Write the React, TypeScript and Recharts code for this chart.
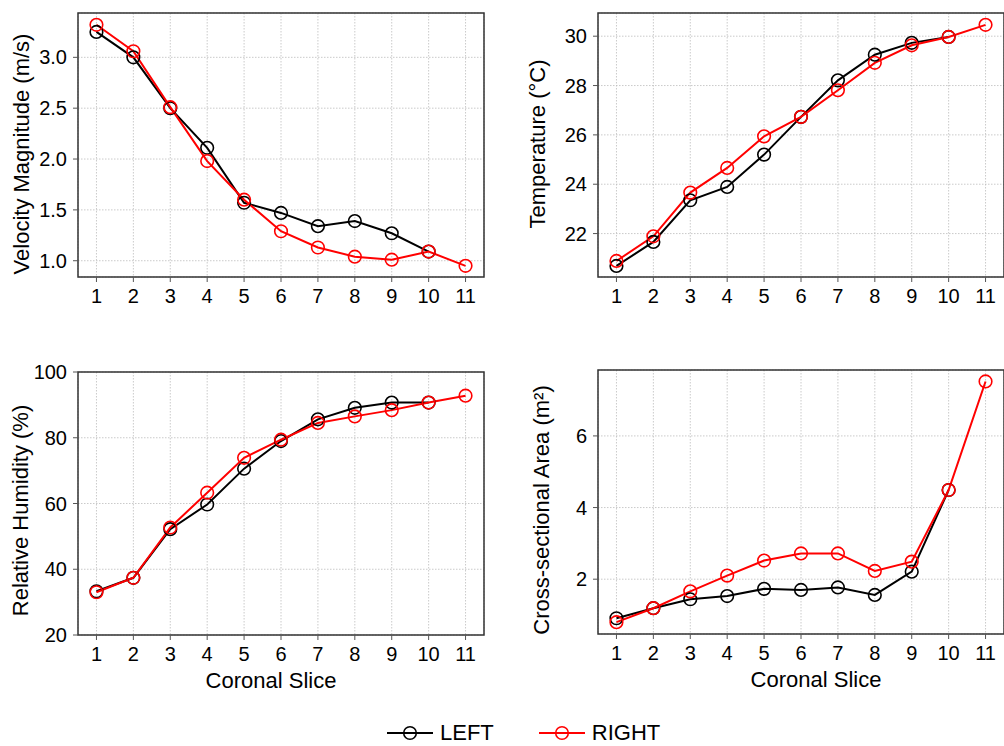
import type { ReactNode } from "react";
import {
  CartesianGrid,
  Legend,
  Line,
  LineChart,
  ReferenceArea,
  XAxis,
  YAxis,
} from "recharts";

const slices = [1, 2, 3, 4, 5, 6, 7, 8, 9, 10, 11];

const velocityLeft = [3.25, 3.0, 2.5, 2.11, 1.57, 1.47, 1.34, 1.39, 1.27, 1.09];
const velocityRight = [3.32, 3.06, 2.51, 1.98, 1.6, 1.29, 1.13, 1.04, 1.01, 1.09, 0.95];
const velocityTicks = [1.0, 1.5, 2.0, 2.5, 3.0];

const temperatureLeft = [20.69, 21.66, 23.35, 23.89, 25.2, 26.73, 28.21, 29.25, 29.73, 29.97];
const temperatureRight = [20.89, 21.89, 23.66, 24.66, 25.94, 26.73, 27.81, 28.92, 29.63, 29.97, 30.46];
const temperatureTicks = [22, 24, 26, 28, 30];

const humidityLeft = [33.3, 37.4, 52.2, 59.7, 70.6, 79.0, 85.6, 89.1, 90.7, 90.7];
const humidityRight = [33.0, 37.4, 52.7, 63.3, 73.9, 79.4, 84.5, 86.5, 88.4, 90.7, 92.8];
const humidityTicks = [20, 40, 60, 80, 100];

const areaLeft = [0.91, 1.19, 1.44, 1.53, 1.73, 1.7, 1.77, 1.56, 2.21, 4.49];
const areaRight = [0.8, 1.19, 1.66, 2.1, 2.52, 2.72, 2.72, 2.23, 2.49, 4.49, 7.52];
const areaTicks = [2, 4, 6];

const FONT = '"Liberation Sans", Arial, Helvetica, sans-serif';
const tickStyle = { fontSize: 20, fill: "#000" };

function buildRows(left: number[], right: number[]) {
  return slices.map((s, i) => ({
    slice: s,
    left: left[i] ?? null,
    right: right[i] ?? null,
  }));
}

const renderLegend = (props: any) => (
  <div style={{ display: "flex", alignItems: "center", height: 26, fontFamily: FONT }}>
    {(props.payload || []).map((entry: any) => (
      <div key={entry.value} style={{ display: "flex", alignItems: "center", marginRight: 45 }}>
        <svg width={46} height={16}>
          <line x1={0} x2={46} y1={8} y2={8} stroke={entry.color} strokeWidth={2} />
          <circle cx={23} cy={8} r={6.3} fill="none" stroke={entry.color} strokeWidth={1.6} />
        </svg>
        <span style={{ marginLeft: 7, fontSize: 22, color: "#000", lineHeight: "26px" }}>
          {entry.value}
        </span>
      </div>
    ))}
  </div>
);

type Box = { left: number; right: number; top: number; bottom: number };

function Panel({
  x,
  y,
  width,
  height,
  plot,
  rows,
  yDomain,
  yTicks,
  yFormat,
  yLabel,
  yLabelX,
  yLabelDy,
  xTitleDx,
  children,
}: {
  x: number;
  y: number;
  width: number;
  height: number;
  plot: Box;
  rows: ReturnType<typeof buildRows>;
  yDomain: [number, number];
  yTicks: number[];
  yFormat?: (v: number) => string;
  yLabel: string;
  yLabelX: number; // page x of label centre
  yLabelDy: number;
  xTitleDx?: number;
  children?: ReactNode;
}) {
  const yAxisWidth = plot.left - x;
  const xAxisHeight = xTitleDx === undefined ? 30 : 50;
  const margin = {
    top: plot.top - y,
    right: x + width - plot.right,
    left: 0,
    bottom: y + height - plot.bottom - xAxisHeight,
  };
  return (
    <div style={{ position: "absolute", left: x, top: y }}>
      <LineChart width={width} height={height} data={rows} margin={margin}>
        <CartesianGrid stroke="#bdbdbd" strokeDasharray="1.5 1.5" strokeWidth={0.8} />
        <XAxis
          dataKey="slice"
          type="number"
          domain={[0.5, 11.5]}
          ticks={slices}
          interval={0}
          allowDataOverflow
          axisLine={false}
          tickLine={{ stroke: "#555" }}
          tickSize={5}
          tickMargin={7}
          tick={tickStyle}
          height={xAxisHeight}
          label={
            xTitleDx === undefined
              ? undefined
              : { value: "Coronal Slice", position: "center", dx: xTitleDx, dy: 20, fontSize: 22, fill: "#000" }
          }
        />
        <YAxis
          type="number"
          domain={yDomain}
          ticks={yTicks}
          interval={0}
          allowDataOverflow
          axisLine={false}
          tickLine={{ stroke: "#555" }}
          tickSize={5}
          tickMargin={6}
          tick={tickStyle}
          width={yAxisWidth}
          tickFormatter={yFormat}
          label={{
            value: yLabel,
            angle: -90,
            position: "center",
            dx: yLabelX - x - yAxisWidth / 2,
            dy: yLabelDy,
            fontSize: 22,
            fill: "#000",
          }}
        />
        <ReferenceArea
          x1={0.5}
          x2={11.5}
          y1={yDomain[0]}
          y2={yDomain[1]}
          fill="none"
          stroke="#333"
          strokeWidth={1.5}
          ifOverflow="visible"
        />
        <Line
          dataKey="left"
          name="LEFT"
          stroke="#000"
          strokeWidth={2}
          dot={{ r: 6.3, fill: "none", stroke: "#000", strokeWidth: 1.6 }}
          activeDot={false}
          isAnimationActive={false}
        />
        <Line
          dataKey="right"
          name="RIGHT"
          stroke="#ff0000"
          strokeWidth={2}
          dot={{ r: 6.3, fill: "none", stroke: "#ff0000", strokeWidth: 1.6 }}
          activeDot={false}
          isAnimationActive={false}
        />
        {children}
      </LineChart>
    </div>
  );
}

export default function App() {
  return (
    <div
      style={{
        position: "absolute",
        left: 0,
        top: 0,
        width: 1004,
        height: 746,
        overflow: "hidden",
        background: "#fff",
        fontFamily: FONT,
      }}
    >
      <Panel
        x={0}
        y={0}
        width={500}
        height={312}
        plot={{ left: 78, right: 484, top: 13, bottom: 277 }}
        rows={buildRows(velocityLeft, velocityRight)}
        yDomain={[0.84, 3.436]}
        yTicks={velocityTicks}
        yFormat={(v) => v.toFixed(1)}
        yLabel="Velocity Magnitude (m/s)"
        yLabelX={21.3}
        yLabelDy={9}
      />
      <Panel
        x={500}
        y={0}
        width={520}
        height={312}
        plot={{ left: 598, right: 1004, top: 13, bottom: 277 }}
        rows={buildRows(temperatureLeft, temperatureRight)}
        yDomain={[20.24, 30.94]}
        yTicks={temperatureTicks}
        yLabel="Temperature (°C)"
        yLabelX={537.3}
        yLabelDy={-1}
      />
      <Panel
        x={0}
        y={350}
        width={500}
        height={350}
        plot={{ left: 78, right: 484, top: 372, bottom: 635 }}
        rows={buildRows(humidityLeft, humidityRight)}
        yDomain={[20, 100]}
        yTicks={humidityTicks}
        yLabel="Relative Humidity (%)"
        yLabelX={20.7}
        yLabelDy={7}
        xTitleDx={-10}
      >
        <Legend
          verticalAlign="middle"
          align="center"
          layout="horizontal"
          content={renderLegend}
          wrapperStyle={{ left: 387, top: 370, width: 320, height: 26 }}
        />
      </Panel>
      <Panel
        x={500}
        y={350}
        width={520}
        height={350}
        plot={{ left: 598, right: 1004, top: 370, bottom: 634 }}
        rows={buildRows(areaLeft, areaRight)}
        yDomain={[0.47, 7.84]}
        yTicks={areaTicks}
        yLabel="Cross-sectional Area (m²)"
        yLabelX={541}
        yLabelDy={8}
        xTitleDx={15}
      />
    </div>
  );
}
